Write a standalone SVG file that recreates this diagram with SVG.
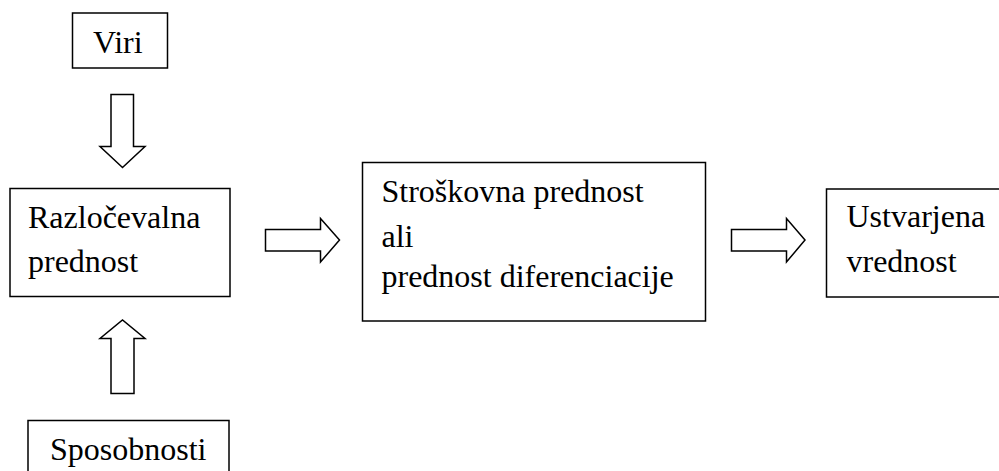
<svg xmlns="http://www.w3.org/2000/svg" width="999" height="471" viewBox="0 0 999 471">
<style>
.box{fill:#fff;stroke:#000;stroke-width:1.5}
.arr{fill:#fff;stroke:#000;stroke-width:1.5;stroke-linejoin:miter}
text{font-family:"Liberation Serif","Times New Roman",serif;font-size:32px;fill:#000}
</style>
<rect width="999" height="471" fill="#fff"/>
<g id="viri">
<rect class="box" x="72.5" y="13" width="95" height="55"/>
<text x="93" y="53">Viri</text>
</g>
<g id="razlocevalna">
<rect class="box" x="10" y="188.5" width="220" height="108"/>
<text x="28" y="228">Razločevalna</text>
<text x="28" y="272">prednost</text>
</g>
<g id="sposobnosti">
<rect class="box" x="28" y="420.5" width="201" height="70"/>
<text x="50" y="460">Sposobnosti</text>
</g>
<g id="stroskovna">
<rect class="box" x="362.5" y="162.5" width="343" height="158.5"/>
<text x="381.5" y="202">Stroškovna prednost</text>
<text x="381.5" y="247">ali</text>
<text x="381.5" y="287">prednost diferenciacije</text>
</g>
<g id="ustvarjena">
<rect class="box" x="826.5" y="189" width="190" height="108"/>
<text x="846.5" y="227">Ustvarjena</text>
<text x="846.5" y="272">vrednost</text>
</g>
<g id="connectors">
<polygon class="arr" points="111,94.5 133.5,94.5 133.5,146.5 145,146.5 122.5,167.5 100,146.5 111,146.5"/>
<polygon class="arr" points="111,393.5 134,393.5 134,338.5 145,338.5 122.5,320 100,338.5 111,338.5"/>
<polygon class="arr" points="265.5,229.5 320.5,229.5 320.5,218.5 339.5,240 320.5,262 320.5,251 265.5,251"/>
<polygon class="arr" points="731.5,229.5 786.5,229.5 786.5,218.5 805,240 786.5,262 786.5,251 731.5,251"/>
</g>
</svg>
